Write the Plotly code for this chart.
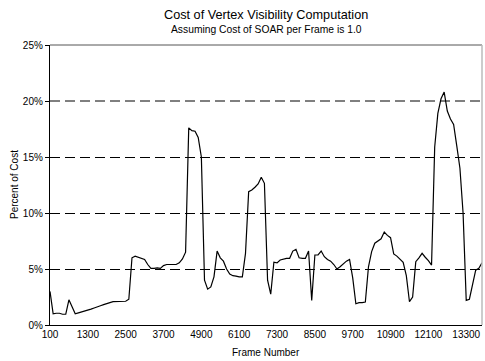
import plotly.graph_objects as go

frames = list(range(100, 13900, 100))
cost = [
    3.0, 1.0, 1.05, 1.05, 0.96, 0.96, 2.25, 1.6, 1.0, 1.08,
    1.15, 1.25, 1.32, 1.42, 1.52, 1.65, 1.72, 1.82, 1.94, 2.0,
    2.08, 2.1, 2.1, 2.1, 2.12, 2.3, 6.0, 6.15, 6.05, 5.95,
    5.85, 5.4, 5.06, 5.06, 5.1, 5.05, 5.3, 5.4, 5.4, 5.4,
    5.4, 5.55, 5.9, 6.5, 17.6, 17.35, 17.3, 16.75, 15.0, 4.0,
    3.2, 3.4, 4.3, 6.6, 6.0, 5.7, 5.0, 4.55, 4.4, 4.37,
    4.3, 4.3, 6.4, 11.9, 12.05, 12.3, 12.6, 13.2, 12.65, 4.0,
    2.75, 5.6, 5.55, 5.8, 5.9, 5.95, 5.95, 6.6, 6.75, 6.0,
    5.95, 5.95, 6.6, 2.2, 6.25, 6.25, 6.6, 6.1, 5.85, 5.7,
    5.4, 5.0, 5.2, 5.45, 5.7, 5.85, 4.2, 1.9, 2.0, 2.0,
    2.05, 5.2, 6.55, 7.3, 7.5, 7.7, 8.3, 8.0, 7.8, 6.35,
    6.15, 5.85, 5.6, 4.4, 2.08, 2.5, 5.65, 6.0, 6.4, 6.05,
    5.75, 5.35, 15.9, 18.9, 20.2, 20.8, 19.1, 18.4, 17.9, 16.0,
    14.0, 10.0, 2.2, 2.3, 3.66, 4.9, 5.06, 5.56,
]
x_ticks = list(range(100, 13400, 1200))
y_ticks = [0, 5, 10, 15, 20, 25]
grid_levels = [5, 10, 15, 20]

FONT = "Liberation Sans, Arial, sans-serif"
W, H = 485, 361
L, R, T, B = 50, 3, 45, 36
PH = H - T - B
PW = W - L - R

def py(pix):
    return (H - B - pix) / PH

def px(pix):
    return (pix - L) / PW

half_px = 25 * 0.5 / PH  # half a pixel in data units, for crisp lines

fig = go.Figure()
fig.add_trace(go.Scatter(x=frames, y=cost, mode="lines",
                         line=dict(color="black", width=1.2),
                         hoverinfo="skip", showlegend=False))

fig.update_layout(
    width=W, height=H,
    margin=dict(l=L, r=R, t=T, b=B, autoexpand=False),
    paper_bgcolor="white", plot_bgcolor="white",
    font=dict(family=FONT, size=10, color="black"),
)
fig.update_xaxes(
    range=[100, 13800], tickvals=x_ticks, ticktext=[str(v) for v in x_ticks],
    showgrid=False, showline=True, linecolor="black", linewidth=1.3,
    ticks="", tickfont=dict(family=FONT, size=10), zeroline=False,
)
fig.update_yaxes(
    range=[0, 25], tickvals=y_ticks, ticktext=[f"{v}%" for v in y_ticks],
    showgrid=False,
    showline=True, linecolor="black", linewidth=1.3, zeroline=False,
    ticks="outside", ticklen=4, tickcolor="black",
    tickfont=dict(family=FONT, size=10),
)
for lvl in grid_levels:
    off = 0 if lvl == 20 else half_px
    fig.add_shape(type="line", xref="paper", yref="y", x0=0, x1=1,
                  y0=lvl - off, y1=lvl - off,
                  line=dict(color="black", width=1, dash="10px,5px"), layer="below")
fig.add_shape(type="line", xref="paper", yref="paper", x0=0, x1=1, y0=1, y1=1,
              line=dict(color="#555555", width=1))
fig.add_shape(type="line", xref="paper", yref="paper", x0=1, x1=1, y0=0, y1=1,
              line=dict(color="#bbbbbb", width=1.5))

fig.add_annotation(text="Cost of Vertex Visibility Computation", xref="paper", yref="paper",
                   x=0.5, y=py(15), xanchor="center", yanchor="middle", showarrow=False,
                   font=dict(family=FONT, size=12.7, color="black"))
fig.add_annotation(text="Assuming Cost of SOAR per Frame is 1.0", xref="paper", yref="paper",
                   x=0.5, y=py(29.5), xanchor="center", yanchor="middle", showarrow=False,
                   font=dict(family=FONT, size=10.3, color="black"))
fig.add_annotation(text="Frame Number", xref="paper", yref="paper",
                   x=0.5, y=py(352), xanchor="center", yanchor="middle", showarrow=False,
                   font=dict(family=FONT, size=10, color="black"))
fig.add_annotation(text="Percent of Cost", xref="paper", yref="paper",
                   x=px(14), y=0.5, xanchor="center", yanchor="middle", showarrow=False,
                   textangle=-90, font=dict(family=FONT, size=10, color="black"))

fig.write_html("out.html", config={"displayModeBar": False},
               post_script="document.body.style.margin='0';")
